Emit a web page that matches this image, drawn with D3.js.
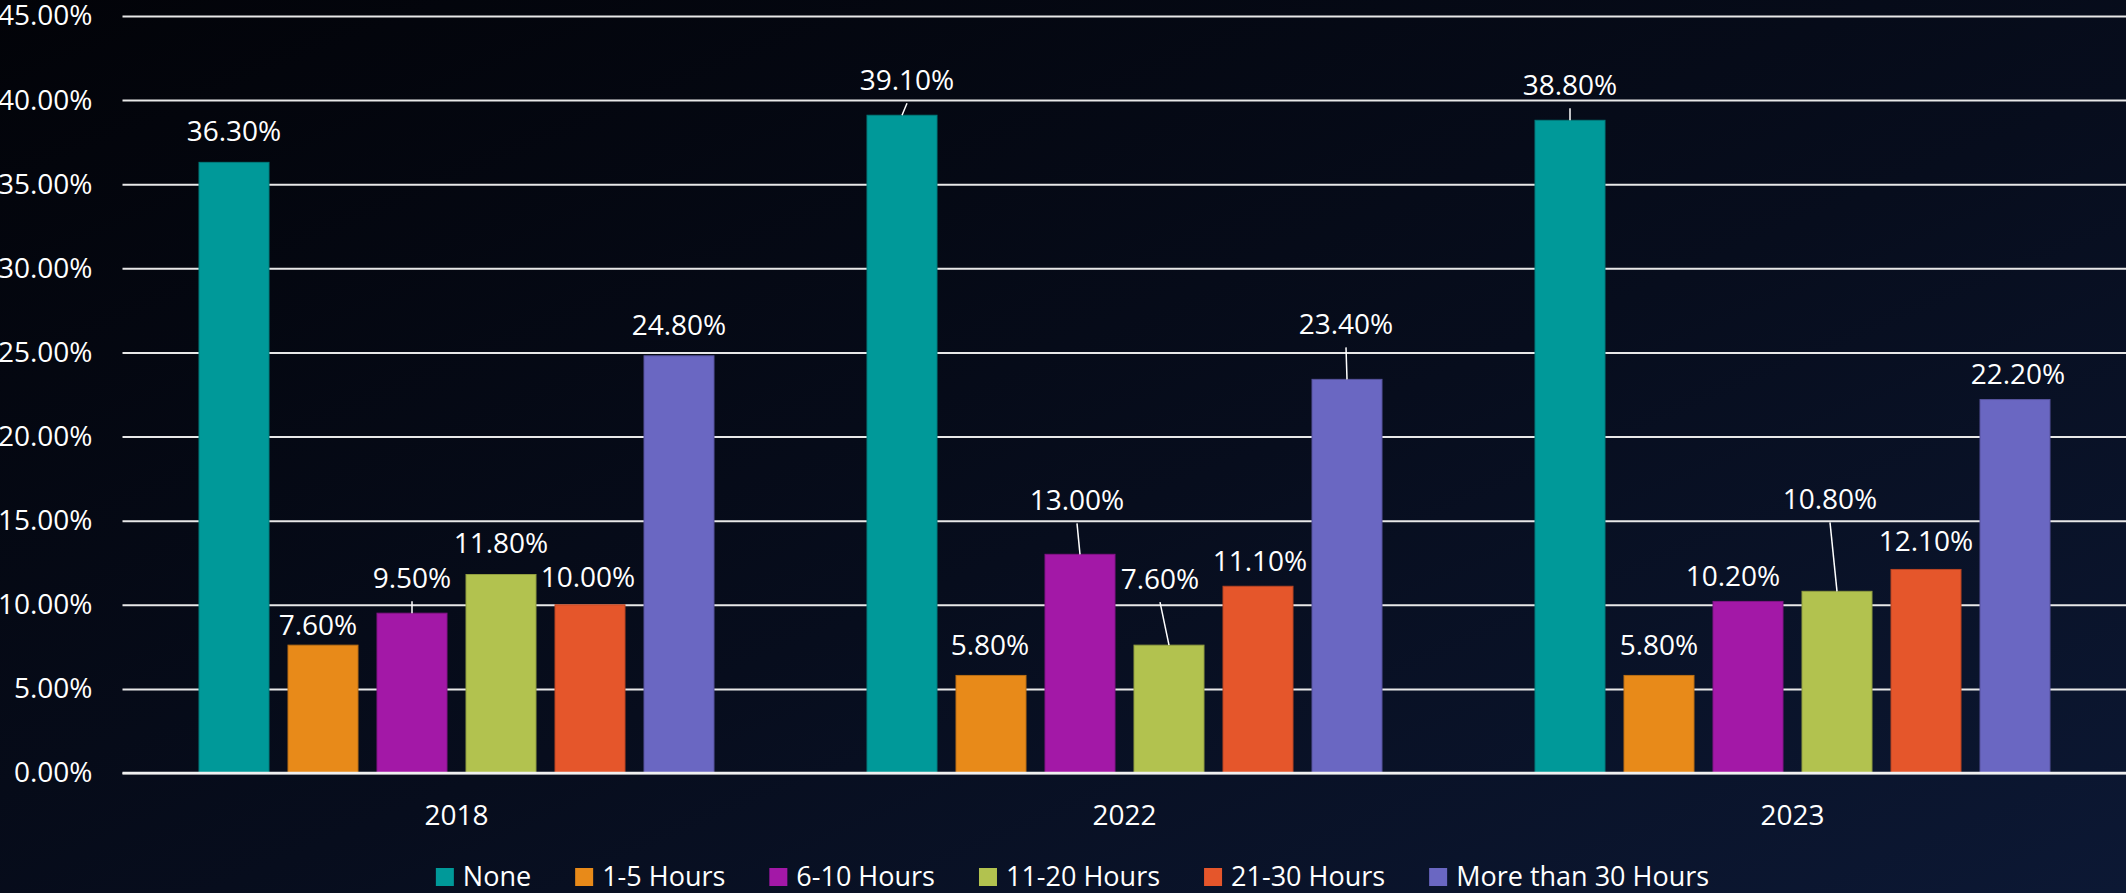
<!DOCTYPE html>
<html>
<head>
<meta charset="utf-8">
<script src="https://cdn.jsdelivr.net/npm/d3@7"></script>
<style>
    html, body { margin: 0; padding: 0; background: #04060c; overflow: hidden; }
    svg { display: block; font-family: "Open Sans", sans-serif; }
</style>
</head>
<body>
<div id="chart"></div>
<script>
const years = ["2018", "2022", "2023"];
const series = ["None", "1-5 Hours", "6-10 Hours", "11-20 Hours", "21-30 Hours", "More than 30 Hours"];

// share of respondents (%) per year
const none = [36.3, 39.1, 38.8];
const hours1to5 = [7.6, 5.8, 5.8];
const hours6to10 = [9.5, 13.0, 10.2];
const hours11to20 = [11.8, 7.6, 10.8];
const hours21to30 = [10.0, 11.1, 12.1];
const over30 = [24.8, 23.4, 22.2];

const yTicks = [0, 5, 10, 15, 20, 25, 30, 35, 40, 45];

const colors = ["#009999", "#e88a19", "#a318a7", "#b2c24f", "#e5562b", "#6a67c2"];

// manual label nudges [dx, distance above bar], like the hand placed labels of the original
const labelNudge = [
    [[0, 21], [5, 25], [0, 25]],
    [[-5, 10], [-1, 20], [0, 20]],
    [[0, 25], [-3, 44], [-15, 15]],
    [[0, 21], [-9, 56], [-7, 82]],
    [[-2, 18], [2, 15], [0, 18]],
    [[0, 21], [-1, 45], [3, 16]]
];

const values = [none, hours1to5, hours6to10, hours11to20, hours21to30, over30];

const width = 2126, height = 893;
const plotLeft = 122.5, plotRight = 2126.5, plotTop = 16, plotBottom = 773;

const svg = d3.select("#chart")
    .append("svg")
    .attr("width", width)
    .attr("height", height);

const defs = svg.append("defs");
const bg = defs.append("linearGradient")
    .attr("id", "bg")
    .attr("x1", "0%").attr("y1", "0%")
    .attr("x2", "100%").attr("y2", "100%");
bg.append("stop").attr("offset", "0%").attr("stop-color", "#020308");
bg.append("stop").attr("offset", "55%").attr("stop-color", "#070d1d");
bg.append("stop").attr("offset", "100%").attr("stop-color", "#0c1834");

svg.append("rect")
    .attr("width", width)
    .attr("height", height)
    .attr("fill", "url(#bg)");

const x0 = d3.scaleBand()
    .domain(years)
    .range([plotLeft, plotRight]);

const x1 = d3.scaleBand()
    .domain(series)
    .range([76.5, 591.5])
    .paddingInner(19 / 89);

const y = d3.scaleLinear()
    .domain([0, 45])
    .range([plotBottom, plotTop]);

// grid + y labels
const yAxis = svg.append("g")
    .attr("transform", `translate(${plotLeft},0)`)
    .call(d3.axisLeft(y)
        .tickValues(yTicks)
        .tickSize(-(width - plotLeft))
        .tickPadding(30)
        .tickFormat(d => d.toFixed(2) + "%"));

yAxis.select(".domain").remove();
yAxis.selectAll(".tick line")
    .attr("stroke", "#e8e8e8")
    .attr("stroke-width", 2);
yAxis.selectAll(".tick text")
    .attr("fill", "#ffffff")
    .style("font-size", "28px")
    .style("font-family", "'Open Sans', sans-serif");

// x labels
svg.append("g")
    .selectAll("text")
    .data(years)
    .enter()
    .append("text")
    .attr("x", d => x0(d) + x0.bandwidth() / 2)
    .attr("y", 825)
    .attr("text-anchor", "middle")
    .attr("fill", "#ffffff")
    .style("font-size", "28px")
    .text(d => d);

const rows = [];
series.forEach((s, i) => {
    years.forEach((yr, j) => {
        rows.push({ series: s, i: i, year: yr, j: j, value: values[i][j] });
    });
});

const bars = svg.append("g");
bars.selectAll("rect")
    .data(rows)
    .enter()
    .append("rect")
    .attr("x", d => x0(d.year) + x1(d.series))
    .attr("y", d => y(d.value))
    .attr("width", x1.bandwidth())
    .attr("height", d => plotBottom - y(d.value))
    .attr("fill", d => colors[d.i])
    .attr("stroke", d => d3.color(colors[d.i]).darker(0.6))
    .attr("stroke-width", 1);

// zero line on top
svg.append("line")
    .attr("x1", plotLeft).attr("x2", width)
    .attr("y1", plotBottom).attr("y2", plotBottom)
    .attr("stroke", "#f0f0f0")
    .attr("stroke-width", 2.5);

const labels = svg.append("g");
rows.forEach(d => {
    const cx = x0(d.year) + x1(d.series) + x1.bandwidth() / 2;
    const barTop = y(d.value);
    const nudge = labelNudge[d.i][d.j];
    const lx = cx + nudge[0];
    const ly = barTop - nudge[1];

    if (nudge[1] > 23) {
        labels.append("line")
            .attr("x1", lx).attr("y1", ly + 13)
            .attr("x2", cx).attr("y2", barTop)
            .attr("stroke", "#ffffff")
            .attr("stroke-width", 1.5);
    }

    labels.append("text")
        .attr("x", lx)
        .attr("y", ly)
        .attr("text-anchor", "middle")
        .attr("fill", "#ffffff")
        .style("font-size", "28px")
        .text(d.value.toFixed(2) + "%");
});

// legend
const legend = svg.append("g");
let legendX = 0;
series.forEach((s, i) => {
    const item = legend.append("g").attr("transform", `translate(${legendX},0)`);
    item.append("rect")
        .attr("x", 0).attr("y", 868)
        .attr("width", 18).attr("height", 18)
        .attr("fill", colors[i]);
    const t = item.append("text")
        .attr("x", 27).attr("y", 886)
        .attr("fill", "#ffffff")
        .style("font-size", "27px")
        .text(s);
    legendX += 27 + t.node().getComputedTextLength() + 44;
});
const legendWidth = legendX - 44;
legend.attr("transform", `translate(${1072.5 - legendWidth / 2},0)`);
</script>
</body>
</html>
